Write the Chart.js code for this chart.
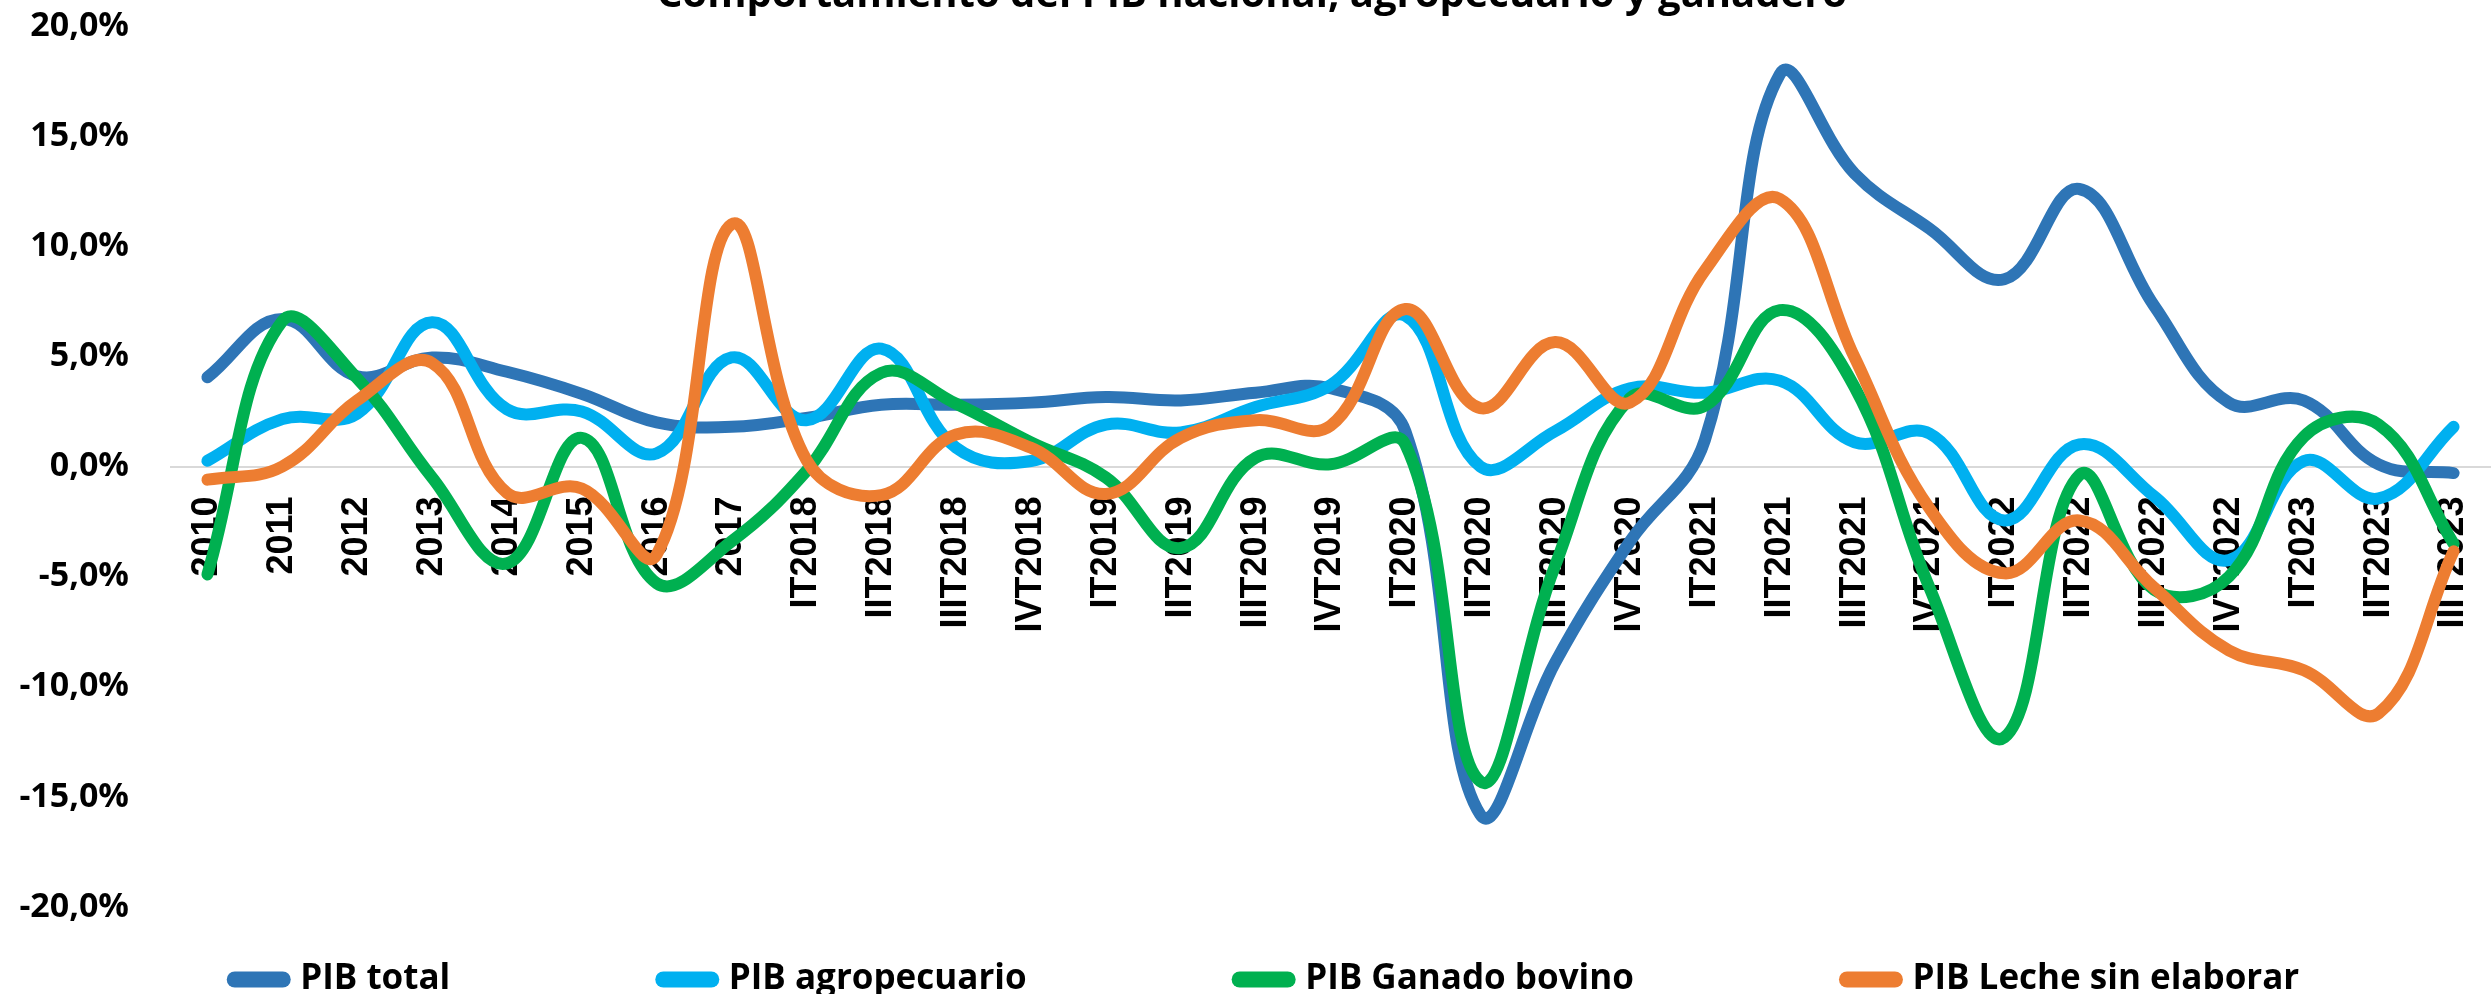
<!DOCTYPE html>
<html>
<head>
<meta charset="utf-8">
<title>Comportamiento del PIB nacional, agropecuario y ganadero</title>
<script src="https://cdn.jsdelivr.net/npm/chart.js@4/dist/chart.umd.min.js"></script>
<style>
  html, body { margin: 0; padding: 0; background: #fff; overflow: hidden; }
  canvas { display: block; }
</style>
</head>
<body>
<canvas id="myChart" width="2491" height="994"></canvas>
<script>
'use strict'
// values, % change
var periods = ['2010', '2011', '2012', '2013', '2014', '2015', '2016', '2017',
    'IT2018', 'IIT2018', 'IIIT2018', 'IVT2018', 'IT2019', 'IIT2019', 'IIIT2019', 'IVT2019',
    'IT2020', 'IIT2020', 'IIIT2020', 'IVT2020', 'IT2021', 'IIT2021', 'IIIT2021', 'IVT2021',
    'IT2022', 'IIT2022', 'IIIT2022', 'IVT2022', 'IT2023', 'IIT2023', 'IIIT2023'];

var pibTotal = [4.05, 6.7, 4.1, 4.95, 4.3, 3.3, 2.0, 1.8, 2.2, 2.8, 2.8, 2.9, 3.15, 3.0, 3.35, 3.55,
    1.6, -15.8, -8.9, -3.4, 1.2, 17.8, 13.3, 10.8, 8.5, 12.6, 7.3, 2.9, 3.0, 0.1, -0.3];
var pibAgro = [0.26, 2.15, 2.4, 6.55, 2.6, 2.5, 0.6, 4.95, 2.1, 5.35, 0.85, 0.25, 1.9, 1.55, 2.7, 3.7,
    6.85, 0.0, 1.6, 3.55, 3.35, 3.9, 1.1, 1.5, -2.45, 1.0, -1.35, -4.25, 0.25, -1.45, 1.8];
var pibBovino = [-4.9, 6.6, 4.0, -0.5, -4.4, 1.3, -5.3, -3.4, -0.2, 4.25, 2.85, 1.1, -0.5, -3.7, 0.4, 0.1,
    1.0, -14.3, -4.5, 3.1, 2.75, 7.1, 3.6, -5.5, -12.3, -0.4, -5.6, -5.0, 1.35, 1.9, -3.5];
var pibLeche = [-0.6, 0.0, 3.0, 4.7, -1.2, -1.0, -4.0, 11.0, 0.3, -1.3, 1.45, 0.85, -1.25, 1.3, 2.1, 1.85,
    7.15, 2.65, 5.65, 2.9, 8.9, 12.15, 4.95, -1.9, -4.85, -2.45, -5.5, -8.35, -9.25, -11.2, -3.85];

var seriesNames = ['PIB total', 'PIB agropecuario', 'PIB Ganado bovino', 'PIB Leche sin elaborar'];
var seriesColors = ['#2E75B6', '#00B0F0', '#00B050', '#ED7D31'];
var yMin = -20;
var yMax = 20;
var yStep = 5;

var chartTitle = 'Comportamiento del PIB nacional, agropecuario y ganadero';

// Excel puts the later series on top, so give them a lower "order"
var allSeries = [pibTotal, pibAgro, pibBovino, pibLeche];
var datasets = [];
for (var i = 0; i < allSeries.length; i++) {
    datasets.push({
        label: seriesNames[i],
        data: allSeries[i],
        borderColor: seriesColors[i],
        backgroundColor: seriesColors[i],
        borderWidth: 12,
        borderCapStyle: 'round',
        borderJoinStyle: 'round',
        pointRadius: 0,
        pointHoverRadius: 0,
        tension: 0.4,
        fill: false,
        order: allSeries.length - i
    });
}

// the legend row sits near the bottom edge, the big padding is only wanted between items
var legendRow = {
    id: 'legendRow',
    afterLayout: function (chart) {
        var lg = chart.legend;
        lg.top = lg.top + 55 - lg.options.labels.padding;
        lg.left += 15;
        lg.right += 15;
    }
};

function pctLabel(value) {
    return value.toFixed(1).replace('.', ',') + '%';
}

// keep tick padding from pushing the plot area in; the plot runs a bit past the right edge
function noEdgePadding(scale) {
    scale.paddingTop = 0;
    scale.paddingBottom = 0;
    scale.paddingLeft = 0;
    scale.paddingRight = -13;
}

var ctx = document.getElementById('myChart').getContext('2d');
var chart = new Chart(ctx, {
    type: 'line',
    data: {
        labels: periods,
        datasets: datasets
    },
    plugins: [legendRow],
    options: {
        responsive: false,
        animation: false,
        devicePixelRatio: 1,
        layout: {
            padding: { left: 0, right: -13, top: 0, bottom: 0 }
        },
        plugins: {
            tooltip: { enabled: false },
            title: {
                display: true,
                text: chartTitle,
                color: '#000',
                font: { family: 'Open Sans', weight: 'bold', size: 40 },
                padding: { top: -28, bottom: 6 }
            },
            legend: {
                position: 'bottom',
                maxHeight: 87,
                labels: {
                    color: '#000',
                    font: { family: 'Open Sans', weight: 'bold', size: 35 },
                    usePointStyle: true,
                    pointStyleWidth: 48,
                    boxHeight: 35,
                    padding: 213,
                    sort: function (a, b) { return a.datasetIndex - b.datasetIndex; },
                    generateLabels: function (chart) {
                        var items = Chart.defaults.plugins.legend.labels.generateLabels(chart);
                        items.forEach(function (it) {
                            it.pointStyle = 'line';
                            it.lineWidth = 16;
                            it.lineCap = 'round';
                        });
                        return items;
                    }
                }
            }
        },
        scales: {
            x: {
                type: 'category',
                position: { y: 0 },
                offset: true,
                afterFit: noEdgePadding,
                grid: { display: false, drawTicks: false },
                border: { display: false },
                ticks: {
                    autoSkip: false,
                    minRotation: 90,
                    maxRotation: 90,
                    padding: 30,
                    color: '#000',
                    font: { family: 'Liberation Sans', weight: 'bold', size: 36 }
                }
            },
            y: {
                min: yMin,
                max: yMax,
                afterFit: function (scale) {
                    noEdgePadding(scale);
                    scale.width = 170;
                },
                grid: {
                    drawTicks: false,
                    lineWidth: 2,
                    color: function (c) {
                        return c.tick && c.tick.value === 0 ? '#d9d9d9' : 'rgba(0,0,0,0)';
                    }
                },
                border: { display: false },
                ticks: {
                    stepSize: yStep,
                    padding: 41,
                    color: '#000',
                    font: { family: 'Open Sans', weight: 'bold', size: 34 },
                    callback: function (value) { return pctLabel(value); }
                }
            }
        }
    }
});
</script>
</body>
</html>
